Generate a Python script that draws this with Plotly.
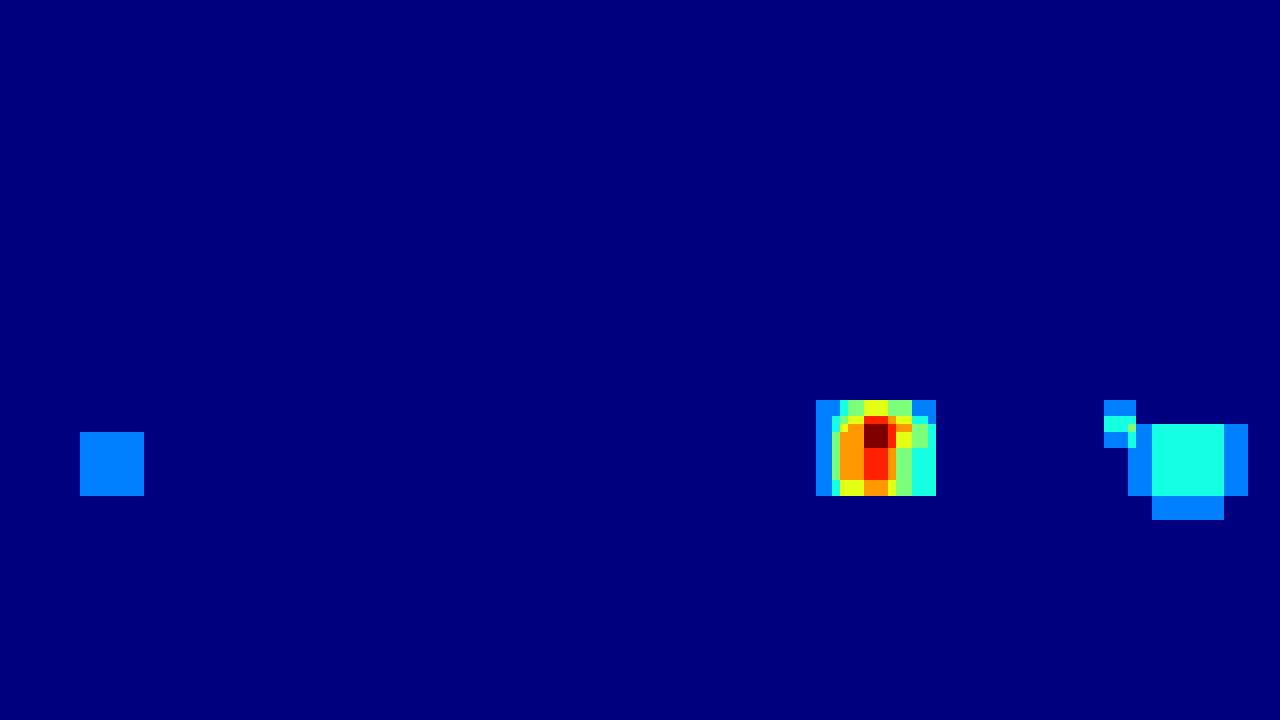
import numpy as np
import plotly.graph_objects as go

# Grid size (cells)
n_rows = 90
n_cols = 160

# Patch 1 (left square): top-left row/col and values
p1_row, p1_col = 54, 10
p1_values = [[2] * 8 for _ in range(8)]

# Patch 2 (hot spot)
p2_row, p2_col = 50, 102
p2_values = [
    [2, 2, 2, 3, 4, 4, 5, 5, 5, 4, 4, 4, 2, 2, 2],
    [2, 2, 2, 3, 4, 4, 5, 5, 5, 4, 4, 4, 2, 2, 2],
    [2, 2, 3, 4, 5, 5, 7, 7, 7, 6, 5, 5, 3, 3, 2],
    [2, 2, 3, 5, 6, 6, 8, 8, 8, 7, 6, 6, 4, 4, 3],
    [2, 2, 4, 6, 6, 6, 8, 8, 8, 7, 5, 5, 4, 4, 3],
    [2, 2, 4, 6, 6, 6, 8, 8, 8, 7, 5, 5, 4, 4, 3],
    [2, 2, 4, 6, 6, 6, 7, 7, 7, 6, 4, 4, 3, 3, 3],
    [2, 2, 4, 6, 6, 6, 7, 7, 7, 6, 4, 4, 3, 3, 3],
    [2, 2, 4, 6, 6, 6, 7, 7, 7, 6, 4, 4, 3, 3, 3],
    [2, 2, 4, 6, 6, 6, 7, 7, 7, 6, 4, 4, 3, 3, 3],
    [2, 2, 3, 5, 5, 5, 6, 6, 6, 5, 4, 4, 3, 3, 3],
    [2, 2, 3, 5, 5, 5, 6, 6, 6, 5, 4, 4, 3, 3, 3],
]

# Patch 3 (right cluster)
p3_row, p3_col = 50, 138
p3_values = [
    [2, 2, 2, 2, 0, 0, 0, 0, 0, 0, 0, 0, 0, 0, 0, 0, 0, 0],
    [2, 2, 2, 2, 0, 0, 0, 0, 0, 0, 0, 0, 0, 0, 0, 0, 0, 0],
    [3, 3, 3, 3, 0, 0, 0, 0, 0, 0, 0, 0, 0, 0, 0, 0, 0, 0],
    [3, 3, 3, 4, 2, 2, 3, 3, 3, 3, 3, 3, 3, 3, 3, 2, 2, 2],
    [2, 2, 2, 3, 2, 2, 3, 3, 3, 3, 3, 3, 3, 3, 3, 2, 2, 2],
    [2, 2, 2, 3, 2, 2, 3, 3, 3, 3, 3, 3, 3, 3, 3, 2, 2, 2],
    [0, 0, 0, 2, 2, 2, 3, 3, 3, 3, 3, 3, 3, 3, 3, 2, 2, 2],
    [0, 0, 0, 2, 2, 2, 3, 3, 3, 3, 3, 3, 3, 3, 3, 2, 2, 2],
    [0, 0, 0, 2, 2, 2, 3, 3, 3, 3, 3, 3, 3, 3, 3, 2, 2, 2],
    [0, 0, 0, 2, 2, 2, 3, 3, 3, 3, 3, 3, 3, 3, 3, 2, 2, 2],
    [0, 0, 0, 2, 2, 2, 3, 3, 3, 3, 3, 3, 3, 3, 3, 2, 2, 2],
    [0, 0, 0, 2, 2, 2, 3, 3, 3, 3, 3, 3, 3, 3, 3, 2, 2, 2],
    [0, 0, 0, 0, 0, 0, 2, 2, 2, 2, 2, 2, 2, 2, 2, 0, 0, 0],
    [0, 0, 0, 0, 0, 0, 2, 2, 2, 2, 2, 2, 2, 2, 2, 0, 0, 0],
    [0, 0, 0, 0, 0, 0, 2, 2, 2, 2, 2, 2, 2, 2, 2, 0, 0, 0],
]

z_max = 8

z = np.zeros((n_rows, n_cols))
for r0, c0, vals in [(p1_row, p1_col, p1_values),
                     (p2_row, p2_col, p2_values),
                     (p3_row, p3_col, p3_values)]:
    a = np.array(vals, dtype=float)
    z[r0:r0 + a.shape[0], c0:c0 + a.shape[1]] = a

# matplotlib-style jet colorscale
jet_r = [(0, 0), (0.35, 0), (0.66, 1), (0.89, 1), (1, 0.5)]
jet_g = [(0, 0), (0.125, 0), (0.375, 1), (0.64, 1), (0.91, 0), (1, 0)]
jet_b = [(0, 0.5), (0.11, 1), (0.34, 1), (0.65, 0), (1, 0)]
stops = sorted(set([p for p, _ in jet_r + jet_g + jet_b]))


def interp(seg, x):
    xs = [p for p, _ in seg]
    ys = [v for _, v in seg]
    return float(np.interp(x, xs, ys))


colorscale = [
    [s, "rgb({},{},{})".format(round(255 * interp(jet_r, s)),
                               round(255 * interp(jet_g, s)),
                               round(255 * interp(jet_b, s)))]
    for s in stops
]

fig = go.Figure(go.Heatmap(
    z=z,
    zmin=0,
    zmax=z_max,
    colorscale=colorscale,
    showscale=False,
    hoverinfo="skip",
))

fig.update_layout(
    width=1280,
    height=720,
    margin=dict(l=0, r=0, t=0, b=0),
    paper_bgcolor="rgb(0,0,128)",
    plot_bgcolor="rgb(0,0,128)",
    xaxis=dict(visible=False, range=[-0.5, n_cols - 0.5]),
    yaxis=dict(visible=False, range=[n_rows - 0.5, -0.5]),
)

fig.write_html(
    "out.html",
    config={"displayModeBar": False},
    post_script="document.body.style.margin='0';document.body.style.overflow='hidden';document.body.style.background='rgb(0,0,128)';",
)
